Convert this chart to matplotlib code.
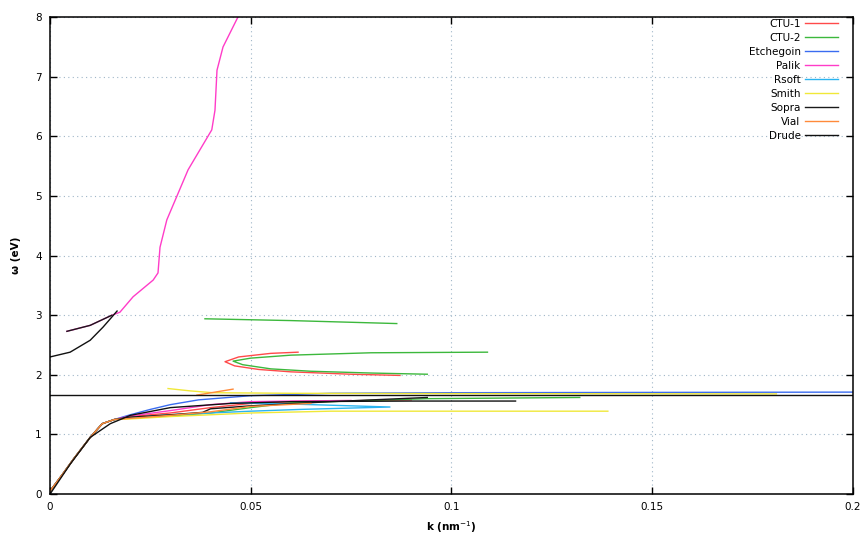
import matplotlib
matplotlib.use("Agg")
import matplotlib.pyplot as plt

# ---- data (k in nm^-1, omega in eV) ----
bundle_k = [0.0, 0.003, 0.006, 0.010, 0.013, 0.016]
bundle_w = [0.05, 0.32, 0.60, 0.95, 1.18, 1.25]

ctu1_k = [0.020, 0.030, 0.040, 0.050, 0.060, 0.080, 0.090]
ctu1_w = [1.30, 1.36, 1.45, 1.52, 1.55, 1.57, 1.58]
ctu1_loop_k = [0.0618, 0.055, 0.047, 0.0436, 0.046, 0.052, 0.060, 0.075, 0.0872]
ctu1_loop_w = [2.38, 2.36, 2.30, 2.22, 2.15, 2.09, 2.05, 2.01, 1.99]

ctu2_k = [0.020, 0.030, 0.040, 0.050, 0.060, 0.094, 0.132]
ctu2_w = [1.28, 1.31, 1.36, 1.45, 1.53, 1.60, 1.62]
ctu2_loop_k = [0.109, 0.080, 0.060, 0.050, 0.0456, 0.048, 0.055, 0.065, 0.080, 0.094]
ctu2_loop_w = [2.38, 2.37, 2.33, 2.28, 2.23, 2.17, 2.10, 2.06, 2.03, 2.01]
ctu2_up_k = [0.0386, 0.060, 0.0864]
ctu2_up_w = [2.94, 2.91, 2.86]

etch_k = [0.020, 0.025, 0.030, 0.037, 0.050, 0.070, 0.100, 0.200]
etch_w = [1.33, 1.42, 1.50, 1.58, 1.65, 1.69, 1.70, 1.71]

palik_k = [0.0042, 0.0100, 0.0154, 0.0174, 0.0207, 0.0257, 0.0269, 0.0274,
           0.0291, 0.0344, 0.0403, 0.0411, 0.0416, 0.0431, 0.0468]
palik_w = [2.73, 2.83, 3.00, 3.05, 3.31, 3.59, 3.71, 4.14,
           4.60, 5.44, 6.11, 6.44, 7.11, 7.50, 8.00]
palik_lo_k = [0.020, 0.030, 0.040, 0.050, 0.060, 0.075]
palik_lo_w = [1.31, 1.40, 1.50, 1.55, 1.56, 1.57]

rsoft_k = [0.020, 0.030, 0.050, 0.0625, 0.0847, 0.070, 0.060, 0.045]
rsoft_w = [1.28, 1.33, 1.39, 1.42, 1.46, 1.49, 1.51, 1.53]

smith_k = [0.020, 0.030, 0.050, 0.070, 0.100, 0.139]
smith_w = [1.26, 1.30, 1.36, 1.39, 1.39, 1.39]
smith_up_k = [0.0294, 0.035, 0.0406, 0.060, 0.100, 0.181]
smith_up_w = [1.77, 1.73, 1.70, 1.69, 1.685, 1.68]

sopra_k = [0.020, 0.030, 0.038, 0.040, 0.050, 0.070, 0.094]
sopra_w = [1.29, 1.33, 1.37, 1.43, 1.48, 1.55, 1.62]
sopra_up_k = [0.0042, 0.0100, 0.0154]
sopra_up_w = [2.73, 2.83, 3.00]

vial_k = [0.020, 0.030, 0.040, 0.050, 0.065]
vial_w = [1.27, 1.32, 1.38, 1.47, 1.52]
vial_up_k = [0.0366, 0.0456]
vial_up_w = [1.66, 1.76]

drude_k = [0.0, 0.005, 0.010, 0.015, 0.020, 0.030, 0.045, 0.060, 0.090, 0.116]
drude_w = [0.0, 0.50, 0.95, 1.18, 1.32, 1.45, 1.52, 1.55, 1.56, 1.56]
drude_up_k = [0.0, 0.005, 0.010, 0.0132, 0.0167]
drude_up_w = [2.30, 2.38, 2.58, 2.80, 3.07]
drude_sp_k = [0.0, 0.2]
drude_sp_w = [1.66, 1.66]

xticks = [0, 0.05, 0.1, 0.15, 0.2]
xticklabels = ["0", "0.05", "0.1", "0.15", "0.2"]
yticks = [0, 1, 2, 3, 4, 5, 6, 7, 8]

colors = {
    "CTU-1": "#ff4a4a", "CTU-2": "#3cb83c", "Etchegoin": "#3a6cf0",
    "Palik": "#ff3cc8", "Rsoft": "#2ab4f0", "Smith": "#f0e838",
    "Sopra": "#1a1a1a", "Vial": "#ff8a3a", "Drude": "#111111",
}

fig = plt.figure(figsize=(8.63, 5.37), dpi=100)
ax = fig.add_axes([0.058, 0.080, 0.930, 0.888])

lw = 1.0

def draw(name, parts, label=True):
    first = True
    for kk, ww, pre in parts:
        if pre:
            kk = bundle_k + kk
            ww = bundle_w + ww
        ax.plot(kk, ww, color=colors[name], lw=lw,
                label=name if (first and label) else None)
        first = False

draw("CTU-1", [(ctu1_k, ctu1_w, True), (ctu1_loop_k, ctu1_loop_w, False)])
draw("CTU-2", [(ctu2_k, ctu2_w, True), (ctu2_loop_k, ctu2_loop_w, False),
               (ctu2_up_k, ctu2_up_w, False)])
draw("Etchegoin", [(etch_k, etch_w, True)])
draw("Palik", [(palik_k, palik_w, False), (palik_lo_k, palik_lo_w, True)])
draw("Rsoft", [(rsoft_k, rsoft_w, True)])
draw("Smith", [(smith_k, smith_w, True), (smith_up_k, smith_up_w, False)])
draw("Sopra", [(sopra_k, sopra_w, True), (sopra_up_k, sopra_up_w, False)])
draw("Vial", [(vial_k, vial_w, True), (vial_up_k, vial_up_w, False)])
draw("Drude", [(drude_k, drude_w, False), (drude_up_k, drude_up_w, False),
               (drude_sp_k, drude_sp_w, False)])

ax.set_xlim(0, 0.2)
ax.set_ylim(0, 8)
ax.set_xticks(xticks)
ax.set_xticklabels(xticklabels)
ax.set_yticks(yticks)
ax.tick_params(direction="in", length=5, width=1, top=True, right=True,
               labelsize=7.5, pad=6)
for s in ax.spines.values():
    s.set_linewidth(1.1)
ax.grid(True, linestyle=(0, (1, 3)), color="#9fb6c8", linewidth=0.8)
ax.set_axisbelow(True)

ax.set_xlabel("k (nm$^{-1}$)", fontsize=7.5, fontweight="bold", labelpad=5)
ax.set_ylabel("ω (eV)", fontsize=7.5, fontweight="bold", labelpad=10)

leg = ax.legend(loc="upper right", bbox_to_anchor=(0.987, 1.005),
                frameon=False, markerfirst=False,
                fontsize=7.5, handlelength=3.2, labelspacing=0.38,
                borderaxespad=0.0, handletextpad=0.4)
for t in leg.get_texts():
    t.set_ha("right")
leg._legend_box.align = "right"

fig.savefig("out.png", dpi=100)
